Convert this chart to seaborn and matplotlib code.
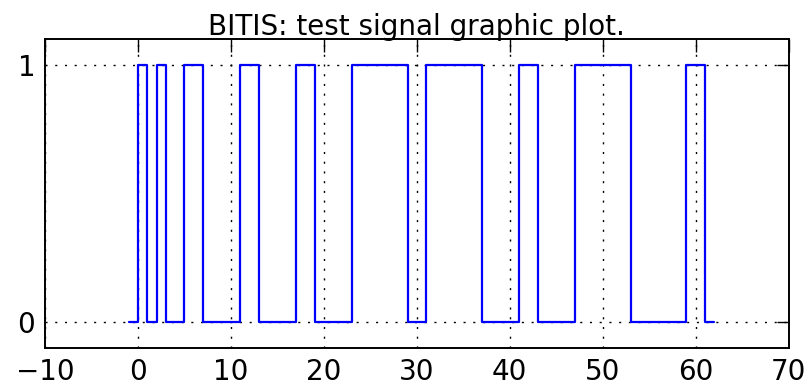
import matplotlib
matplotlib.use("Agg")
import matplotlib.pyplot as plt
import seaborn as sns
import pandas as pd

# Transition times and signal level held from each time (steps-post)
times = [-1, 0, 1, 2, 3, 5, 7, 11, 13, 17, 19, 23, 29, 31, 37, 41, 43, 47, 53, 59, 61, 62]
levels = [0, 1, 0, 1, 0, 1, 0, 1, 0, 1, 0, 1, 0, 1, 0, 1, 0, 1, 0, 1, 0, 0]
xticks = [-10, 0, 10, 20, 30, 40, 50, 60, 70]
yticks = [0, 1]
title = "BITIS: test signal graphic plot."

sns.set_style("white")
plt.rcParams['font.family'] = ['DejaVu Sans']

df = pd.DataFrame({"t": times, "v": levels})

fig = plt.figure(figsize=(8.1, 3.89), dpi=100)
ax = fig.add_axes([0.0556, 0.105, 0.918, 0.795])
sns.lineplot(data=df, x="t", y="v", ax=ax, color="#0000ff", linewidth=1.6,
             drawstyle="steps-post", estimator=None, sort=False)

ax.set_xlim(-10, 70)
ax.set_ylim(-0.1, 1.1)
ax.set_xticks(xticks)
ax.set_yticks(yticks)
ax.set_xticklabels([str(v).replace("-", "\u2212") for v in xticks], fontsize=20)
ax.set_yticklabels([str(v) for v in yticks], fontsize=20)
ax.set_xlabel("")
ax.set_ylabel("")
ax.grid(True, color="black", linestyle=(0, (1.5, 5.5)), linewidth=1.0)
ax.tick_params(direction="in", length=9, width=1.0, top=True, right=True,
               pad=7, colors="black", labelcolor="black")
for s in ax.spines.values():
    s.set_visible(True)
    s.set_color("black")
    s.set_linewidth(1.4)
ax.set_title(title, fontsize=20, pad=3, color="black")

fig.savefig("out.png", dpi=100)
